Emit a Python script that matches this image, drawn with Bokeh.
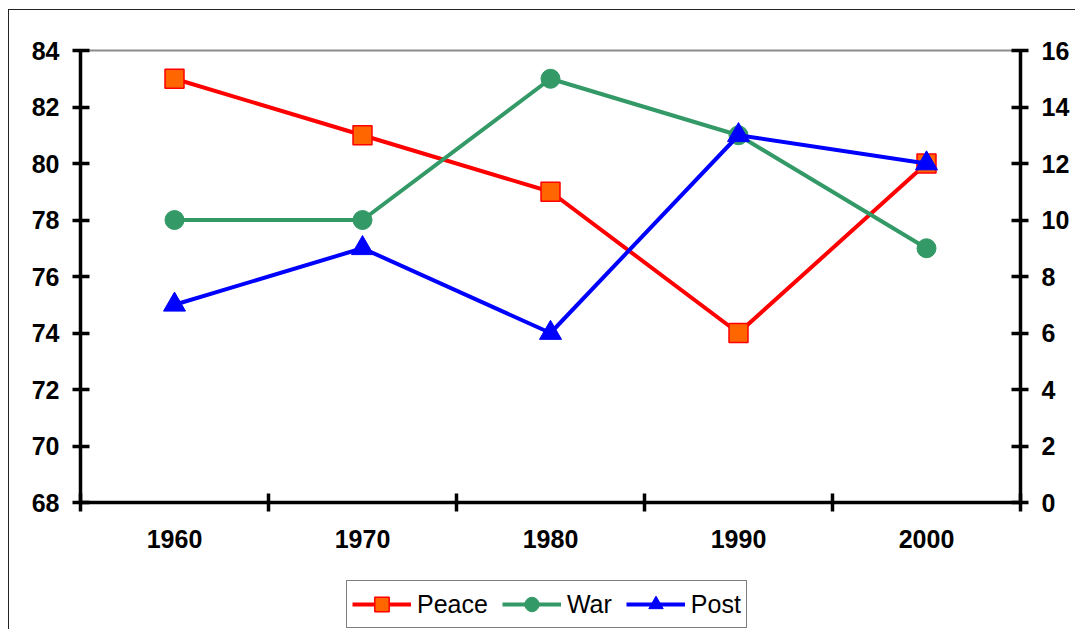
from bokeh.plotting import figure
from bokeh.layouts import column
from bokeh.models import (Range1d, LinearAxis, FixedTicker, Legend, LegendItem)
from bokeh.embed import file_html
from bokeh.resources import INLINE

years = ["1960", "1970", "1980", "1990", "2000"]
peace = [83, 81, 79, 74, 80]          # left axis
war = [10, 10, 15, 13, 9]             # right axis
post = [7, 9, 6, 13, 12]              # right axis
left_ticks = [68, 70, 72, 74, 76, 78, 80, 82, 84]
right_ticks = [0, 2, 4, 6, 8, 10, 12, 14, 16]
labels = ["Peace", "War", "Post"]

x = list(range(len(years)))

FONT = "Liberation Sans"
TICK_SIZE = "25px"

STYLES = [
    dict(color="#FF0000", marker="square", size=19, fill="#FF6600", lw=1.5),
    dict(color="#339966", marker="circle", size=19, fill="#339966", lw=1),
    dict(color="#0000FF", marker="triangle", size=22, fill="#0000FF", lw=1),
]

p = figure(width=1075, height=580, output_backend="svg", toolbar_location=None,
           x_range=Range1d(-0.5, len(years) - 0.5), y_range=Range1d(68, 84),
           min_border_left=80, min_border_right=55, min_border_top=50, min_border_bottom=78,
           x_axis_location="below", y_axis_location="left")
p.extra_y_ranges = {"right": Range1d(0, 16)}
p.grid.visible = False
p.outline_line_color = "#8c8c8c"
p.outline_line_width = 2
p.background_fill_color = "white"
p.border_fill_alpha = 0

def style_axis(ax):
    ax.axis_line_width = 3.5
    ax.axis_line_color = "black"
    ax.major_tick_line_width = 3.5
    ax.major_tick_line_color = "black"
    ax.minor_tick_line_width = 3.5
    ax.minor_tick_line_color = "black"
    ax.major_label_text_font = FONT
    ax.major_label_text_font_style = "bold"
    ax.major_label_text_font_size = TICK_SIZE
    ax.major_label_text_color = "black"

xa = p.xaxis[0]
style_axis(xa)
xa.ticker = FixedTicker(ticks=x, minor_ticks=[i - 0.5 for i in range(len(years) + 1)])
xa.major_label_overrides = {i: y for i, y in enumerate(years)}
xa.major_tick_in = 0
xa.major_tick_out = 0
xa.minor_tick_in = 9
xa.minor_tick_out = 9
xa.major_label_standoff = 18

ya = p.yaxis[0]
style_axis(ya)
ya.ticker = FixedTicker(ticks=left_ticks, minor_ticks=[])
ya.major_tick_in = 9
ya.major_tick_out = 8
ya.minor_tick_in = 0
ya.minor_tick_out = 0
ya.major_label_standoff = 13

ra = LinearAxis(y_range_name="right")
style_axis(ra)
ra.ticker = FixedTicker(ticks=right_ticks, minor_ticks=[])
ra.major_tick_in = 9
ra.major_tick_out = 8
ra.minor_tick_in = 0
ra.minor_tick_out = 0
ra.major_label_standoff = 13
p.add_layout(ra, "right")

series = [(peace, "default"), (war, "right"), (post, "right")]
for (vals, rng), st in zip(series, STYLES):
    p.line(x, vals, line_color=st["color"], line_width=4, y_range_name=rng)
    p.scatter(x, vals, marker=st["marker"], size=st["size"], fill_color=st["fill"],
              line_color=st["color"], line_width=st["lw"], y_range_name=rng)

# legend strip below the chart (its renderers lie outside its visible ranges)
lg = figure(width=1075, height=49, output_backend="svg", toolbar_location=None,
            x_range=Range1d(1000, 1001), y_range=Range1d(1000, 1001),
            x_axis_location=None, y_axis_location=None,
            min_border_left=0, min_border_right=0, min_border_top=0, min_border_bottom=0)
lg.grid.visible = False
lg.outline_line_color = None
lg.background_fill_alpha = 0
lg.border_fill_alpha = 0
items = []
for lab, (vals, _), st in zip(labels, series, STYLES):
    lr = lg.line(x, vals, line_color=st["color"], line_width=4)
    sr = lg.scatter(x, vals, marker=st["marker"], size=st["size"], fill_color=st["fill"],
                    line_color=st["color"], line_width=st["lw"])
    items.append(LegendItem(label=lab, renderers=[lr, sr]))

legend = Legend(items=items, orientation="horizontal", location=(266, 1))
legend.label_text_font = FONT
legend.label_text_font_size = "25px"
legend.label_text_color = "black"
legend.glyph_width = 59
legend.glyph_height = 36
legend.label_height = 36
legend.label_standoff = 6
legend.spacing = 14
legend.padding = 5
legend.margin = 0
legend.border_line_color = "black"
legend.border_line_width = 1
legend.background_fill_color = "white"
legend.background_fill_alpha = 1
lg.add_layout(legend, "center")

layout = column(p, lg, spacing=0)
layout.styles = {"background": "linear-gradient(#222,#222) 8px 9px / 100% 1px no-repeat, "
                               "linear-gradient(#222,#222) 8px 9px / 1px 100% no-repeat, white"}

open("out.html", "w").write(file_html(layout, INLINE))
